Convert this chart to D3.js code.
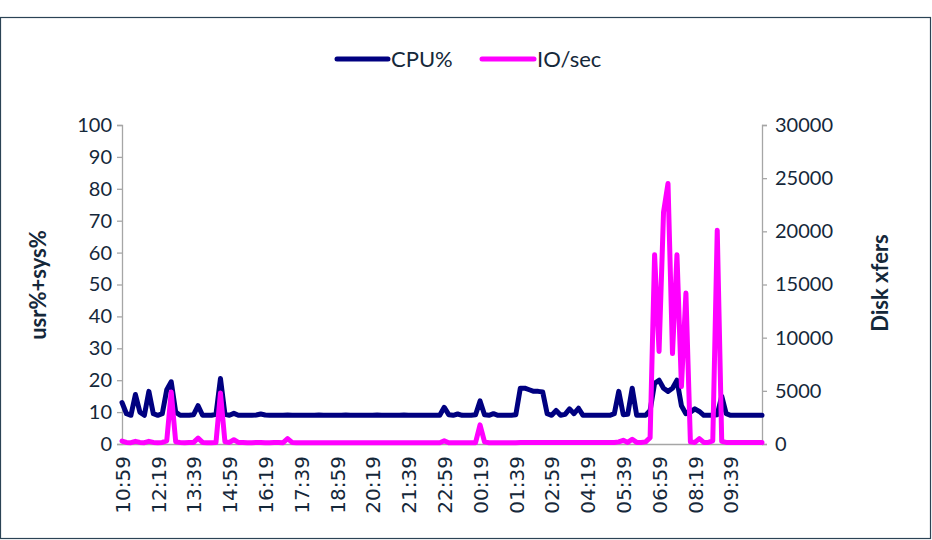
<!DOCTYPE html>
<html><head><meta charset="utf-8">
<script src="https://cdn.jsdelivr.net/npm/d3@7"></script>
<style>
html,body{margin:0;padding:0;background:#fff;}
svg{display:block;font-family:Lato,"Open Sans",sans-serif;}
</style></head>
<body><svg id="c" width="932" height="540"></svg>
<script>
// ---- data ----
const startTime = "10:59";
const stepMinutes = 10;
const tickLabels = ["10:59","12:19","13:39","14:59","16:19","17:39","18:59","20:19","21:39","22:59","00:19","01:39","02:59","04:19","05:39","06:59","08:19","09:39"];
const cpu = [
 13,9.5,9,15.5,10,9,16.5,9.5,9,9.5,17,19.5,
 10,9,9,9,9.2,12,9,9,9,9.3,20.5,9.3,
 9,9.6,9,9,9,9,9.1,9.4,9.1,9,9,9,
 9,9.1,9,9,9,9,9,9,9.1,9,9,9,
 9,9,9.1,9,9,9,9,9,9,9.1,9,9,
 9,9,9,9.1,9,9,9,9,9,9,9,9,
 11.5,9.2,9,9.4,9,9,9,9.2,13.5,9.2,9,9.5,
 9,9,9,9,9.2,17.5,17.5,17,16.5,16.5,16.3,9.5,
 9,10.5,9,9.3,11,9.5,11.2,9,9,9,9,9,
 9,9,9.5,16.5,9.2,9.3,17.5,9,9,9,10.5,19,
 20,17.5,16.5,17.5,20,12,9.5,10,11,10.2,9,9,
 9,9.2,15,9.5,9,9,9,9,9,9,9,9
];
const io = [
 280,150,120,250,150,120,250,150,120,150,300,4900,
 200,150,120,150,150,550,150,120,120,150,4800,200,
 150,400,150,150,120,120,150,150,120,120,150,150,
 120,500,150,120,120,120,120,120,120,120,120,120,
 120,120,120,120,120,120,120,120,120,120,120,120,
 120,120,120,120,120,120,120,120,120,120,120,120,
 300,120,120,120,120,120,120,120,1800,200,120,120,
 120,120,120,120,120,150,150,150,150,150,150,150,
 150,150,150,150,150,150,150,150,150,150,150,150,
 150,150,150,200,350,150,450,150,150,200,600,17800,
 8700,21800,24500,8500,17800,5400,14200,200,150,500,150,150,
 300,20100,250,150,150,150,150,150,150,150,150,150
];
const seriesNames = ["CPU%","IO/sec"];
const leftTicks = [0,10,20,30,40,50,60,70,80,90,100];
const rightTicks = [0,5000,10000,15000,20000,25000,30000];

// categories (time stamps every 10 minutes)
const [sh, sm] = startTime.split(":").map(Number);
const categories = cpu.map((_, i) => {
  const t = (sh * 60 + sm + i * stepMinutes) % 1440;
  return String(Math.floor(t / 60)).padStart(2, "0") + ":" + String(t % 60).padStart(2, "0");
});

// ---- drawing ----
const svg = d3.select("#c");
const textCol = "#15283a";
const axisCol = "#a6a6a6";
const L = 122, R = 762, T = 125, B = 444;

svg.append("rect").attr("x",0.5).attr("y",17.5).attr("width",930).attr("height",521)
  .attr("fill","#fff").attr("stroke","#2b4355").attr("stroke-width",1.2);

const x = d3.scalePoint().domain(categories).range([L, R]);
const yL = d3.scaleLinear().domain([0,100]).range([B, T]);
const yR = d3.scaleLinear().domain([0,30000]).range([B, T]);

const gl = svg.append("g").attr("transform",`translate(${L},0)`)
  .call(d3.axisLeft(yL).tickValues(leftTicks).tickSize(5).tickPadding(5));
const gr = svg.append("g").attr("transform",`translate(${R},0)`)
  .call(d3.axisRight(yR).tickValues(rightTicks).tickSize(5).tickPadding(8).tickFormat(d3.format("d")));
const tickCats = categories.filter((c,i)=> i % 8 === 0);
const gb = svg.append("g").attr("transform",`translate(0,${B})`)
  .call(d3.axisBottom(x).tickValues(tickCats).tickSize(0)
  .tickFormat((d)=> tickLabels[categories.indexOf(d)/8]));

[gl,gr,gb].forEach(g=>{
  g.select(".domain").attr("stroke",axisCol).attr("stroke-width",1.3);
  g.selectAll(".tick line").attr("stroke",axisCol).attr("stroke-width",1.3);
  g.selectAll("text").attr("fill",textCol).style("font-family","Lato, 'Open Sans', sans-serif");
});
gl.selectAll("text").style("font-size","20px");
gr.selectAll("text").style("font-size","20px");
gb.selectAll("text").style("font-size","20px").style("font-family","'DejaVu Sans', Verdana, sans-serif")
  .attr("transform","rotate(-90)").attr("text-anchor","end")
  .attr("x",-12).attr("y",0).attr("dy","0.36em");

const lineL = d3.line().x((d,i)=>x(categories[i])).y(d=>yL(d)).curve(d3.curveLinear);
const lineR = d3.line().x((d,i)=>x(categories[i])).y(d=>yR(d)).curve(d3.curveLinear);

svg.append("path").datum(cpu).attr("d",lineL).attr("fill","none")
  .attr("stroke","#000080").attr("stroke-width",5).attr("stroke-linejoin","round").attr("stroke-linecap","round");
svg.append("path").datum(io).attr("d",lineR).attr("fill","none")
  .attr("stroke","#ff00ff").attr("stroke-width",5).attr("stroke-linejoin","round").attr("stroke-linecap","round");

// axis titles
svg.append("text").attr("transform","translate(38,285) rotate(-90)")
  .attr("text-anchor","middle").attr("dy","0.35em").attr("fill",textCol)
  .style("font-size","22px").style("font-weight","bold").text("usr%+sys%");
svg.append("text").attr("transform","translate(880,283) rotate(-90)")
  .attr("text-anchor","middle").attr("dy","0.35em").attr("fill",textCol)
  .style("font-size","22px").style("font-weight","bold").text("Disk xfers");

// legend
const legend = [
  {name: seriesNames[0], color:"#000080", x0:337, x1:388},
  {name: seriesNames[1], color:"#ff00ff", x0:482, x1:534}
];
const lg = svg.append("g");
legend.forEach(d=>{
  lg.append("line").attr("x1",d.x0).attr("x2",d.x1).attr("y1",59).attr("y2",59)
    .attr("stroke",d.color).attr("stroke-width",5).attr("stroke-linecap","round");
  lg.append("text").attr("x",d.x1+3).attr("y",59).attr("dy","0.35em")
    .attr("fill",textCol).style("font-size","22px").text(d.name);
});
</script></body></html>
